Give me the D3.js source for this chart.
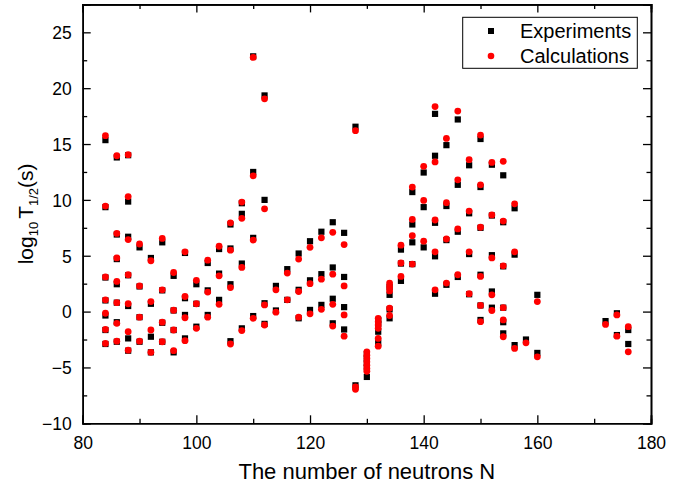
<!DOCTYPE html>
<html>
<head>
<meta charset="utf-8">
<script src="https://cdn.jsdelivr.net/npm/d3@7"></script>
<style>
  body { margin: 0; background: #fff; }
  text { font-family: Arial, "Liberation Sans", sans-serif; fill: #000; }
</style>
</head>
<body>
<div id="chart"></div>
<script>
// columns: [N, log10 T1/2 values]
var experiments = [
  [84, [15.35, 9.35, 3.05, 1.0, -0.35, -1.65, -2.9]],
  [86, [13.8, 6.9, 4.7, 2.45, 0.8, -0.95, -2.7]],
  [88, [14.0, 9.85, 6.7, 3.25, 0.5, -2.4, -3.5]],
  [90, [5.75, 2.25, -0.5, -2.7]],
  [92, [4.8, 0.7, -2.25, -3.65]],
  [94, [6.2, 1.9, -1.0, -2.7]],
  [96, [3.2, 0.1, -1.65, -3.65]],
  [98, [5.25, 1.2, -0.3, -2.4]],
  [100, [2.45, 0.7, -1.35]],
  [102, [4.35, 1.9, -0.3]],
  [104, [5.6, 3.4, 1.05]],
  [106, [7.8, 5.65, 2.45, -2.65]],
  [108, [9.7, 8.75, 4.3, -1.5]],
  [110, [22.85, 12.5, 6.6, -0.4]],
  [112, [19.35, 10.0, 0.75, -1.1]],
  [114, [2.3, 0.1]],
  [116, [3.8, 1.05]],
  [118, [5.2, 1.95, -0.6]],
  [120, [6.3, 2.8, 0.15]],
  [122, [7.15, 3.35, 0.6]],
  [124, [8.0, 3.95, 1.15, -1.05]],
  [126, [7.05, 3.1, 0.4, -1.6]],
  [128, [16.55, -6.6]],
  [130, [-3.8, -4.2, -4.6, -5.0, -5.85]],
  [132, [-0.75, -1.1, -1.8, -2.8]],
  [134, [2.2, 1.5, 0.2, -0.6]],
  [136, [5.55, 4.3, 2.75]],
  [138, [10.7, 7.8, 6.2, 4.25]],
  [140, [12.45, 9.35, 5.75]],
  [142, [17.7, 13.95, 7.95, 4.95, 1.6]],
  [144, [14.9, 9.45, 6.4, 2.4]],
  [146, [17.2, 11.35, 7.15, 3.1]],
  [148, [13.1, 8.8, 5.15, 1.55]],
  [150, [15.45, 11.15, 7.5, 3.3, 0.55, -0.75]],
  [152, [13.15, 8.6, 5.05, 1.8, 0.35]],
  [154, [12.2, 8.0, 4.05, 0.35, -0.95, -1.95]],
  [156, [9.25, 5.1, -3.0]],
  [158, [-2.5]],
  [160, [1.5, -3.7]],
  [172, [-0.85]],
  [174, [-0.15, -2.1]],
  [176, [-1.65, -2.9]]
];

var calculations = [
  [84, [15.75, 9.45, 3.1, 1.05, -0.15, -1.6, -2.85]],
  [86, [13.95, 7.0, 4.8, 2.7, 0.8, -1.05, -2.65]],
  [88, [14.05, 10.3, 6.45, 3.3, 0.7, -1.8, -3.45]],
  [90, [6.05, 2.3, -0.5, -2.65]],
  [92, [4.55, 0.9, -1.65, -3.65]],
  [94, [6.55, 1.95, -0.95, -2.7]],
  [96, [3.5, 0.12, -1.65, -3.5]],
  [98, [5.35, 1.35, -0.55, -2.6]],
  [100, [2.8, 0.7, -1.5]],
  [102, [4.6, 1.75, -0.5]],
  [104, [5.85, 3.2, 0.65]],
  [106, [7.95, 5.5, 2.15, -2.9]],
  [108, [9.8, 8.35, 3.95, -1.7]],
  [110, [22.75, 12.15, 6.4, -0.6]],
  [112, [19.05, 9.2, 0.6, -1.2]],
  [114, [1.95, -0.05]],
  [116, [3.45, 1.05]],
  [118, [4.7, 1.8, -0.5]],
  [120, [5.75, 2.5, -0.2]],
  [122, [6.6, 2.9, 0.2]],
  [124, [7.1, 3.35, 0.65, -1.3]],
  [126, [6.0, 2.3, -0.3, -2.2]],
  [128, [16.2, -6.75, -6.95]],
  [130, [-3.6, -3.9, -4.2, -4.5, -4.8, -5.1, -5.35]],
  [132, [-0.6, -0.9, -1.2, -1.5, -2.4, -3.1]],
  [134, [2.55, 2.2, 1.85, 0.3, -0.35]],
  [136, [5.95, 4.35, 3.15]],
  [138, [11.15, 8.25, 6.8, 4.25]],
  [140, [13.0, 9.95, 6.3]],
  [142, [18.35, 13.4, 8.2, 5.35, 1.95]],
  [144, [15.5, 9.75, 6.5, 2.55]],
  [146, [17.95, 11.8, 7.4, 3.3]],
  [148, [13.6, 9.0, 5.35, 1.6]],
  [150, [15.8, 11.35, 7.55, 3.15, 0.55, -0.9]],
  [152, [13.35, 8.65, 4.8, 1.5, 0.1]],
  [154, [13.45, 8.1, 4.1, 0.35, -0.75, -2.25]],
  [156, [9.65, 5.35, -3.3]],
  [158, [-2.8]],
  [160, [0.9, -4.05]],
  [172, [-1.15]],
  [174, [-0.3, -2.2]],
  [176, [-1.35, -3.6]]
];

var xTicks = [80, 100, 120, 140, 160, 180];
var yTicks = [-10, -5, 0, 5, 10, 15, 20, 25];
var seriesNames = ["Experiments", "Calculations"];

function flatten(cols){
    var out = [];
    cols.forEach(function(c){
        c[1].forEach(function(v){ out.push({n: c[0], v: v}); });
    });
    return out;
}

var width = 691, height = 488;
var plotLeft = 82.7, plotRight = 651, plotTop = 4.4, plotBottom = 423.3;

var svg = d3.select("#chart").append("svg")
    .attr("width", width)
    .attr("height", height);

var x = d3.scaleLinear().domain([80, 180]).range([plotLeft, plotRight]);
var y = d3.scaleLinear().domain([-10, 27.5]).range([plotBottom, plotTop]);

var xMinor = d3.range(90, 180, 20);
var yMinor = d3.range(-7.5, 27.5, 5);

// minor ticks
svg.append("g").attr("class", "axis")
    .attr("transform", "translate(0," + plotBottom + ")")
    .call(d3.axisBottom(x).tickValues(xMinor).tickSize(-4.5).tickFormat(""));
svg.append("g").attr("class", "axis")
    .attr("transform", "translate(0," + plotTop + ")")
    .call(d3.axisTop(x).tickValues(xMinor).tickSize(-4.5).tickFormat(""));
svg.append("g").attr("class", "axis")
    .attr("transform", "translate(" + plotLeft + ",0)")
    .call(d3.axisLeft(y).tickValues(yMinor).tickSize(-4.5).tickFormat(""));
svg.append("g").attr("class", "axis")
    .attr("transform", "translate(" + plotRight + ",0)")
    .call(d3.axisRight(y).tickValues(yMinor).tickSize(-4.5).tickFormat(""));

// major ticks
var xAxis = svg.append("g").attr("class", "axis")
    .attr("transform", "translate(0," + plotBottom + ")")
    .call(d3.axisBottom(x).tickValues(xTicks).tickSize(-8).tickPadding(13).tickFormat(d3.format("d")));
svg.append("g").attr("class", "axis")
    .attr("transform", "translate(0," + plotTop + ")")
    .call(d3.axisTop(x).tickValues(xTicks).tickSize(-8).tickFormat(""));
var yAxis = svg.append("g").attr("class", "axis")
    .attr("transform", "translate(" + plotLeft + ",0)")
    .call(d3.axisLeft(y).tickValues(yTicks).tickSize(-8).tickPadding(11).tickFormat(d3.format("d")));
svg.append("g").attr("class", "axis")
    .attr("transform", "translate(" + plotRight + ",0)")
    .call(d3.axisRight(y).tickValues(yTicks).tickSize(-8).tickFormat(""));

svg.selectAll(".axis path")
    .attr("stroke", "#000")
    .attr("stroke-width", 1.6);
svg.selectAll(".axis line")
    .attr("stroke", "#000")
    .attr("stroke-width", 1.3);
svg.selectAll(".axis text")
    .style("font-size", "17.5px")
    .style("fill", "#000");
xAxis.selectAll("text").attr("dy", "0.71em");
yAxis.selectAll("text").attr("dy", "0.36em");

// points
svg.append("g").selectAll("rect")
    .data(flatten(experiments))
    .enter().append("rect")
    .attr("x", function(d){ return x(d.n) - 3.1; })
    .attr("y", function(d){ return y(d.v) - 3.1; })
    .attr("width", 6.2)
    .attr("height", 6.2)
    .attr("fill", "#000");

svg.append("g").selectAll("circle")
    .data(flatten(calculations))
    .enter().append("circle")
    .attr("cx", function(d){ return x(d.n); })
    .attr("cy", function(d){ return y(d.v); })
    .attr("r", 3.4)
    .attr("fill", "#ff0000");

// axis titles
svg.append("text")
    .attr("x", (plotLeft + plotRight) / 2)
    .attr("y", 479)
    .attr("text-anchor", "middle")
    .style("font-size", "22px")
    .text("The number of neutrons N");

var yTitle = svg.append("text")
    .attr("transform", "translate(33," + ((plotTop + plotBottom) / 2) + ") rotate(-90)")
    .attr("text-anchor", "middle")
    .style("font-size", "21px");
yTitle.append("tspan").text("log");
yTitle.append("tspan").attr("dy", 5).style("font-size", "13px").text("10");
yTitle.append("tspan").attr("dy", -5).attr("dx", 3).text("T");
yTitle.append("tspan").attr("dy", 5).style("font-size", "13px").text("1/2");
yTitle.append("tspan").attr("dy", -5).text("(s)");

// legend
var legend = svg.append("g");
legend.append("rect")
    .attr("x", 462.7)
    .attr("y", 17.3)
    .attr("width", 174.6)
    .attr("height", 51)
    .attr("fill", "#fff")
    .attr("stroke", "#000")
    .attr("stroke-width", 1);
legend.append("rect")
    .attr("x", 488).attr("y", 28)
    .attr("width", 6).attr("height", 6)
    .attr("fill", "#000");
legend.append("circle")
    .attr("cx", 491).attr("cy", 56)
    .attr("r", 3.3)
    .attr("fill", "#ff0000");
legend.selectAll("text.lab")
    .data(seriesNames)
    .enter().append("text")
    .attr("class", "lab")
    .attr("x", 520)
    .attr("y", function(d, i){ return 38 + i * 25; })
    .style("font-size", "20px")
    .text(function(d){ return d; });
</script>
</body>
</html>
